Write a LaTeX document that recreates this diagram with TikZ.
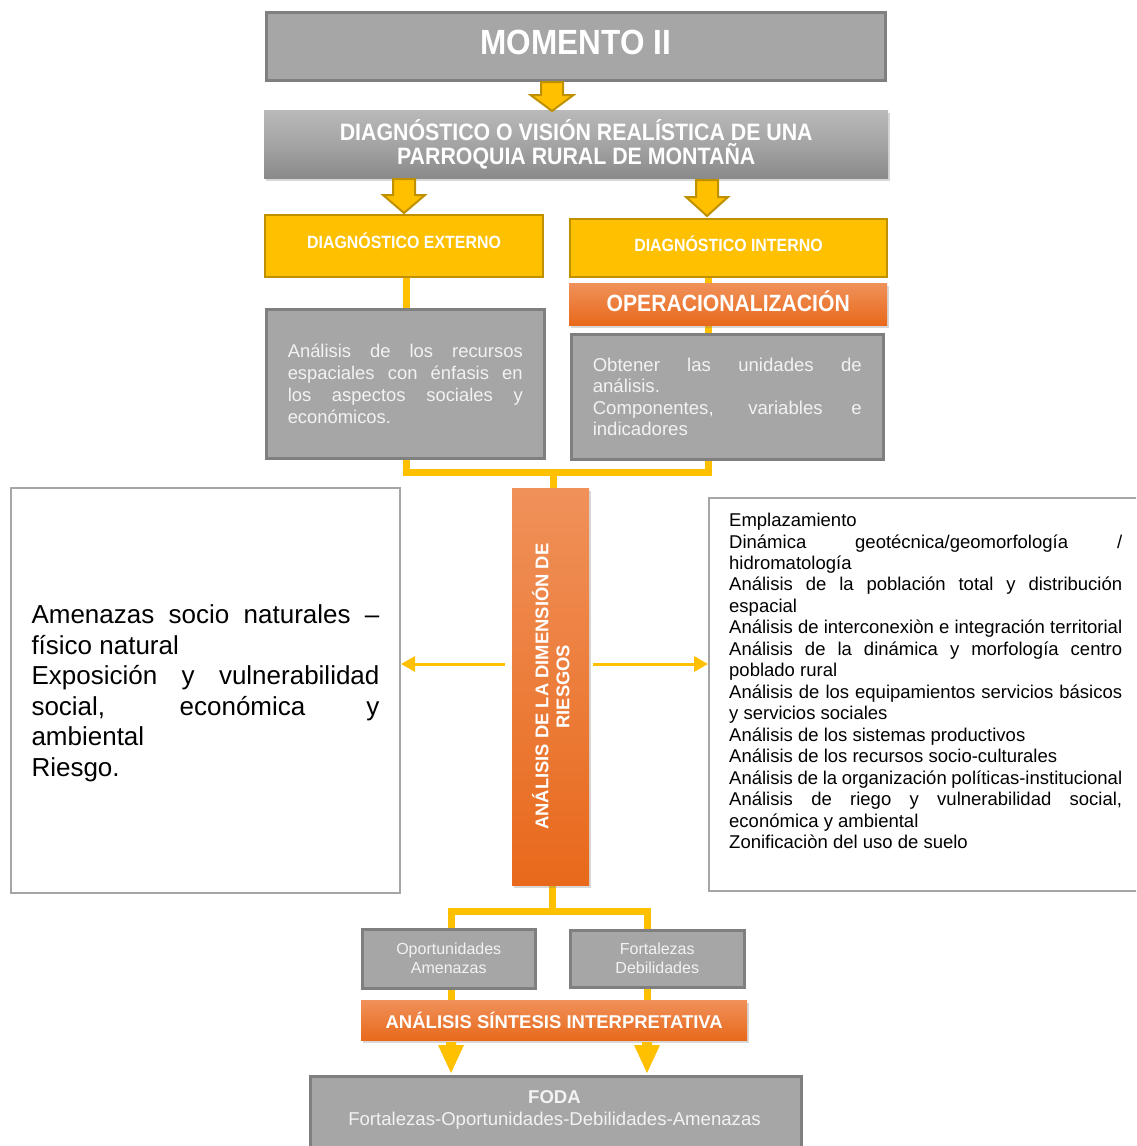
\documentclass[tikz,border=0pt]{standalone}
\usepackage{fontspec}
\setmainfont{Liberation Sans}
\newfontfamily\condfont[FakeStretch=0.9]{Liberation Sans}
\usetikzlibrary{shadows,arrows.meta,calc}
\pgfdeclarelayer{lines}
\pgfsetlayers{lines,main}
\definecolor{boxgray}{HTML}{A6A6A6}
\definecolor{edgegray}{HTML}{7F7F7F}
\definecolor{framegray}{HTML}{A6A6A6}
\definecolor{ygold}{HTML}{FFC000}
\definecolor{yedge}{HTML}{BF9000}
\definecolor{otop}{HTML}{F0915A}
\definecolor{obot}{HTML}{E8691B}
\definecolor{gtop}{HTML}{B9B9B9}
\definecolor{gmid}{HTML}{A4A4A4}
\definecolor{gbot}{HTML}{8A8A8A}
\definecolor{txtw}{HTML}{F2F2F2}
\newcommand{\jl}[2]{\makebox[#1][s]{#2}}
\newcommand{\nl}[2]{\makebox[#1][l]{#2}}
\newcommand{\hdfont}[2]{\condfont\bfseries\fontsize{#1}{#2}\selectfont}
\newcommand{\blockarrow}[6]{\draw[#6] ($(#1)+(-#2,0)$) -- ++({2*#2},0) -- ++(0,#4) -- ++({#3-#2},0) -- ++({-#3},#5) -- ++({-#3},{-#5}) -- ++({#3-#2},0) -- cycle;}
\begin{document}
\begin{tikzpicture}[x=1pt,y=-1pt,
  graybox/.style={draw=edgegray, line width=2.5pt, fill=boxgray, inner sep=0pt, anchor=north west, text=txtw},
  ybox/.style={draw=yedge, line width=2pt, fill=ygold, inner sep=0pt, anchor=north west, text=white},
  obox/.style={top color=otop, bottom color=obot, draw=none, inner sep=0pt, anchor=north west, text=white,
     drop shadow={opacity=0.3, shadow xshift=2pt, shadow yshift=-3pt}},
  wbox/.style={draw=framegray, line width=2pt, fill=white, inner sep=0pt, anchor=north west, text=black},
  lbl/.style={inner sep=0pt, text=white},
  yline/.style={draw=ygold, line width=7pt},
  yarrow/.style={draw=ygold, line width=3pt, -{Triangle[length=14pt,width=15pt]}},
  barrowst/.style={fill=ygold, draw=yedge, line width=2pt, line join=miter},
  barrowflat/.style={fill=ygold, draw=none},
]
\useasboundingbox (0,0) rectangle (1136,1146);
\clip (0,0) rectangle (1136,1146);
\begin{pgfonlayer}{lines}
\fill[white] (0,0) rectangle (1136,1146);
\end{pgfonlayer}

% top
\node[graybox, minimum width=619pt, minimum height=68pt] (mom) at (265,11) {};
\node[lbl, font={\hdfont{35}{40}}] (momtxt) at ($(mom.center)+(0,-3.5)$) {MOMENTO II};
\node[anchor=north west, inner sep=0pt, minimum width=624pt, minimum height=68pt,
      top color=gtop, bottom color=gbot, middle color=gmid, text=white, align=center,
      drop shadow={opacity=0.3, shadow xshift=2pt, shadow yshift=-3pt},
      font={\hdfont{23.7}{24}}] (diag) at (264,110)
      {DIAGNÓSTICO O VISIÓN REALÍSTICA DE UNA\\PARROQUIA RURAL DE MONTAÑA};

\node[ybox, minimum width=278pt, minimum height=62pt] (ext) at (264,214) {};
\node[lbl, font={\hdfont{17.7}{20}}] (exttxt) at ($(ext.center)+(0,-5)$) {DIAGNÓSTICO EXTERNO};
\node[ybox, minimum width=317pt, minimum height=58pt] (int) at (569,218) {};
\node[lbl, font={\hdfont{17.7}{20}}] (inttxt) at ($(int.center)+(0,-4)$) {DIAGNÓSTICO INTERNO};

\node[obox, minimum width=318pt, minimum height=42pt] (oper) at (569,283) {};
\node[lbl, font={\hdfont{23.5}{26}}] (opertxt) at ($(oper.center)+(0,-3)$) {OPERACIONALIZACIÓN};

\node[graybox, minimum width=278pt, minimum height=149pt, align=left,
      font={\fontsize{18.4}{21.8}\selectfont}] (gl) at (265,308)
  {\jl{235pt}{Análisis de los recursos}\\
   \jl{235pt}{espaciales con énfasis en}\\
   \jl{235pt}{los aspectos sociales y}\\
   \nl{235pt}{económicos.}};

\node[graybox, minimum width=312pt, minimum height=125pt, align=left,
      font={\fontsize{18.6}{21.3}\selectfont}] (gr) at (570,333)
  {\jl{269pt}{Obtener las unidades de}\\
   \nl{269pt}{análisis.}\\
   \jl{269pt}{Componentes, variables e}\\
   \nl{269pt}{indicadores}};

% risk column
\node[obox, minimum width=77pt, minimum height=397pt] (vert) at (512,488) {};
\node[rotate=90, align=center, inner sep=0pt, text=white, font={\bfseries\fontsize{18.4}{21}\selectfont}] (vtxt)
  at ($(vert.center)+(0,0)$) {ANÁLISIS DE LA DIMENSIÓN DE\\RIESGOS};

\node[wbox, minimum width=389pt, minimum height=405pt] (lb) at (10,487) {};
\node[align=left, inner sep=0pt, text=black, font={\fontsize{26}{30.5}\selectfont}] (lbtxt) at ($(lb.center)+(0,3)$)
  {\jl{348pt}{Amenazas socio naturales –}\\
   \nl{348pt}{físico natural}\\
   \jl{348pt}{Exposición y vulnerabilidad}\\
   \jl{348pt}{social, económica y}\\
   \nl{348pt}{ambiental}\\
   \nl{348pt}{Riesgo.}};

\node[wbox, minimum width=450pt, minimum height=393pt] (rb) at (708,497) {};
\node[anchor=north west, inner sep=0pt, align=left, font={\fontsize{18.5}{21.46}\selectfont}] (rtxt) at (729,513)
  {\nl{393pt}{Emplazamiento}\\
   \jl{393pt}{Dinámica geotécnica/geomorfología /}\\
   \nl{393pt}{hidromatología}\\
   \jl{393pt}{Análisis de la población total y distribución}\\
   \nl{393pt}{espacial}\\
   \jl{393pt}{Análisis de interconexiòn e integración territorial}\\
   \jl{393pt}{Análisis de la dinámica y morfología centro}\\
   \nl{393pt}{poblado rural}\\
   \jl{393pt}{Análisis de los equipamientos servicios básicos}\\
   \nl{393pt}{y servicios sociales}\\
   \nl{393pt}{Análisis de los sistemas productivos}\\
   \nl{393pt}{Análisis de los recursos socio-culturales}\\
   \jl{393pt}{Análisis de la organización políticas-institucional}\\
   \jl{393pt}{Análisis de riego y vulnerabilidad social,}\\
   \nl{393pt}{económica y ambiental}\\
   \nl{393pt}{Zonificaciòn del uso de suelo}};

% bottom
\node[graybox, minimum width=173pt, minimum height=59pt, align=center, font={\fontsize{16}{19}\selectfont}] (opp) at (361,928) {Oportunidades\\Amenazas};
\node[graybox, minimum width=174pt, minimum height=57pt, align=center, font={\fontsize{16}{19}\selectfont}] (fort) at (569,929) {Fortalezas\\Debilidades};
\node[obox, minimum width=386pt, minimum height=40pt, font={\bfseries\fontsize{18.5}{20}\selectfont}] (sint) at (361,1000) {ANÁLISIS SÍNTESIS INTERPRETATIVA};
\node[graybox, minimum width=491pt, minimum height=95pt] (foda) at (309,1075) {};
\node[align=center, inner sep=0pt, text=txtw, font={\fontsize{18.6}{22}\selectfont}] (fodatxt) at (554.5,1110)
  {\textbf{FODA}\\Fortalezas-Oportunidades-Debilidades-Amenazas};

% connectors
\coordinate (jL) at (406,472);
\coordinate (jR) at (708,472);
\coordinate (jC) at (553,472);
\coordinate (kC) at (552,911);
\coordinate (kL) at (451,911);
\coordinate (kR) at (647,911);
\coordinate (mL) at (505,664);
\coordinate (mR) at (593,664);
\begin{pgfonlayer}{lines}
\draw[yline] (jL |- ext.south) -- (jL |- gl.north);
\draw[yline] (jR |- int.south) -- (jR |- gr.north);
\draw[yline, line join=miter] (jL |- gl.south) -- (jL) -- (jR) -- (jR |- gr.south);
\draw[yline] (jC) -- (jC |- vert.north);
\draw[yline] (kC |- vert.south) -- (kC);
\draw[yline, line join=miter] (kL |- opp.north) -- (kL) -- (kR) -- (kR |- fort.north);
\draw[yline] (kL |- opp.south) -- (kL |- sint.north);
\draw[yline] (kR |- fort.south) -- (kR |- sint.north);
\end{pgfonlayer}
\draw[yarrow] (mL) -- (mL -| lb.east);
\draw[yarrow] (mR) -- (mR -| rb.west);

% block arrows
\coordinate (a1) at (552,82);
\coordinate (a2) at (404,179);
\coordinate (a3) at (707,180);
\coordinate (b1) at (451,1042);
\coordinate (b2) at (647,1042);
\blockarrow{a1}{11}{21.5}{13}{16}{barrowst}
\blockarrow{a2}{11}{21}{16}{18}{barrowst}
\blockarrow{a3}{11}{21}{17}{19}{barrowst}
\blockarrow{b1}{5}{13}{3}{28}{barrowflat}
\blockarrow{b2}{5}{13}{3}{28}{barrowflat}
\end{tikzpicture}
\end{document}
